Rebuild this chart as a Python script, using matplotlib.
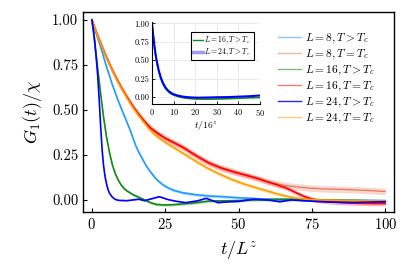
import numpy as np
import matplotlib
matplotlib.use("Agg")
import matplotlib.pyplot as plt
from matplotlib.lines import Line2D
from matplotlib.ticker import FormatStrFormatter

plt.rcParams['font.family'] = ['cmr10', 'DejaVu Serif']
plt.rcParams['mathtext.fontset'] = 'cm'
plt.rcParams['axes.unicode_minus'] = False
plt.rcParams['axes.formatter.use_mathtext'] = True

#####################################################################
# main panel data, t/L^z
t_l8_hot = [0, 1, 2, 3, 4, 5, 6, 7, 8, 9, 10, 11, 12, 13, 14, 15, 16, 17, 18, 19, 20, 22, 24,
            26, 28, 31, 35, 40, 45, 50, 55, 60, 70, 80, 90, 100]
g_l8_hot = [1.0, 0.95, 0.9, 0.85, 0.795, 0.74, 0.69, 0.64, 0.595, 0.55, 0.51, 0.47, 0.43, 0.39,
            0.345, 0.30, 0.265, 0.235, 0.205, 0.178, 0.155, 0.115, 0.087, 0.067, 0.053, 0.04,
            0.03, 0.022, 0.018, 0.012, 0.008, 0.004, 0.002, 0.0, -0.002, -0.004]

t_crit = [0, 1, 2, 3, 4, 5, 6, 7, 8, 9, 10, 12, 14, 16, 18, 20, 22, 25, 28, 31, 34, 37, 40, 44,
          48, 52, 56, 60, 63, 66, 69, 72, 75, 78, 82, 86, 90, 95, 100]
g_l8_crit = [1.0, 0.955, 0.912, 0.87, 0.83, 0.792, 0.755, 0.72, 0.687, 0.656, 0.626, 0.57, 0.52,
             0.475, 0.435, 0.40, 0.375, 0.343, 0.318, 0.293, 0.262, 0.232, 0.205, 0.178, 0.158,
             0.14, 0.122, 0.102, 0.09, 0.08, 0.074, 0.069, 0.065, 0.062, 0.06, 0.058, 0.056,
             0.052, 0.047]
g_l16_crit = [1.0, 0.955, 0.912, 0.87, 0.83, 0.792, 0.755, 0.72, 0.687, 0.656, 0.626, 0.57, 0.52,
              0.475, 0.435, 0.40, 0.375, 0.343, 0.318, 0.293, 0.262, 0.232, 0.205, 0.178, 0.158,
              0.14, 0.122, 0.10, 0.085, 0.068, 0.045, 0.022, 0.005, -0.006, -0.012, -0.015,
              -0.018, -0.02, -0.02]
g_l24_crit = [1.0, 0.954, 0.91, 0.868, 0.827, 0.789, 0.752, 0.717, 0.684, 0.652, 0.622, 0.565,
              0.513, 0.467, 0.425, 0.385, 0.355, 0.32, 0.29, 0.26, 0.23, 0.2, 0.172, 0.14, 0.112,
              0.088, 0.068, 0.049, 0.035, 0.022, 0.012, 0.005, 0.002, 0.0, -0.001, -0.002,
              -0.004, -0.005, -0.006]

t_l16_hot = [0, 0.5, 1, 1.5, 2, 2.5, 3, 3.5, 4, 5, 6, 7, 8, 9, 10, 11, 12, 14, 16, 18, 20, 22,
             25, 28, 31, 34, 37, 40, 45, 50, 55, 60, 65, 70, 80, 90, 100]
g_l16_hot = [1.0, 0.94, 0.87, 0.8, 0.73, 0.66, 0.59, 0.525, 0.46, 0.35, 0.265, 0.195, 0.145,
             0.11, 0.083, 0.063, 0.05, 0.03, 0.015, 0.0, -0.015, -0.025, -0.028, -0.026, -0.022,
             -0.018, -0.012, -0.006, -0.005, -0.004, 0.0, 0.002, 0.003, 0.003, 0.0, -0.004, -0.006]

t_l24_hot = [0, 0.5, 1, 1.5, 2, 2.5, 3, 3.5, 4, 4.5, 5, 5.5, 6, 7, 8, 9, 10, 12, 14, 16, 18, 20,
             23, 26, 29, 32, 36, 39, 43, 47, 50, 55, 60, 64, 68, 72, 77, 82, 89, 95, 100]
g_l24_hot = [1.0, 0.95, 0.88, 0.79, 0.69, 0.56, 0.41, 0.28, 0.19, 0.13, 0.09, 0.058, 0.038,
             0.015, 0.003, -0.002, -0.003, -0.004, 0.0, 0.004, -0.004, 0.005, 0.018, 0.002,
             -0.008, -0.015, -0.005, 0.009, -0.015, -0.01, -0.008, 0.004, 0.0, -0.01, 0.0,
             -0.004, -0.009, -0.012, -0.015, -0.012, -0.01]

# ribbon half widths
err_l8_hot = 0.008
err_l8_crit = 0.018
err_l16_hot = 0.007
err_l16_crit = 0.012
err_l24_hot = 0.002
err_l24_crit = 0.01

labels = [r"$L = 8, T > T_c$", r"$L = 8, T = T_c$", r"$L = 16, T > T_c$",
          r"$L = 16, T = T_c$", r"$L = 24, T > T_c$", r"$L = 24, T = T_c$"]

# inset data, t/16^z
t_inset = [0, 0.5, 1, 1.5, 2, 3, 4, 5, 6, 7, 8, 9, 10, 12, 14, 16, 18, 21, 25, 30, 35, 40, 45, 50]
g_inset_l16 = [1.0, 0.84, 0.71, 0.6, 0.505, 0.36, 0.255, 0.18, 0.125, 0.088, 0.06, 0.04, 0.026,
               0.006, -0.008, -0.017, -0.023, -0.028, -0.03, -0.028, -0.024, -0.018, -0.012, -0.008]
g_inset_l24 = [1.0, 0.85, 0.72, 0.61, 0.52, 0.375, 0.27, 0.195, 0.14, 0.1, 0.072, 0.052, 0.037,
               0.018, 0.006, -0.002, -0.006, -0.01, -0.008, -0.004, -0.002, 0.004, 0.01, 0.02]
inset_labels = [r"$L = 16, T > T_c$", r"$L = 24, T > T_c$"]

#####################################################################
colors = ['#1E9CFF', '#E8785A', '#138A13', '#FF0000', '#0000FF', '#FFA000']

fig = plt.figure(figsize=(4.07, 2.71), dpi=100)
ax = fig.add_axes([0.204, 0.2177, 0.7641, 0.738])

series = [(t_l8_hot, g_l8_hot, err_l8_hot),
          (t_crit, g_l8_crit, err_l8_crit),
          (t_l16_hot, g_l16_hot, err_l16_hot),
          (t_crit, g_l16_crit, err_l16_crit),
          (t_l24_hot, g_l24_hot, err_l24_hot),
          (t_crit, g_l24_crit, err_l24_crit)]
order = [1, 0, 2, 3, 5, 4]
for i in order:
    t, g, e = series[i]
    t = np.array(t)
    g = np.array(g)
    ax.fill_between(t, g - e, g + e, color=colors[i], alpha=0.3, lw=0)
    lw = 0.9 if i == 1 else 1.2
    ax.plot(t, g, color=colors[i], lw=lw)

ax.set_xlim(-3, 103)
ax.set_ylim(-0.067, 1.044)
ax.set_xticks([0, 25, 50, 75, 100])
ax.set_yticks([0, 0.25, 0.5, 0.75, 1.0])
ax.yaxis.set_major_formatter(FormatStrFormatter('%.2f'))
ax.tick_params(direction='in', labelsize=10.5, length=3, width=0.8)
for s in ax.spines.values():
    s.set_linewidth(1.0)
ax.set_xlabel(r"$t/L^z$", fontsize=13, labelpad=5)
ax.set_ylabel(r"$G_1(t)/\chi$", fontsize=13, labelpad=6)

handles = [Line2D([], [], color=colors[i], lw=1.0, alpha=0.55 if i != 4 else 0.85) for i in range(6)]
ax.legend(handles, labels, loc='upper left', bbox_to_anchor=(0.6, 0.94), frameon=False,
          fontsize=8.3, handlelength=2.0, handletextpad=0.35, labelspacing=0.22, borderpad=0.2)

#####################################################################
axin = fig.add_axes([0.3735, 0.6162, 0.2654, 0.3026])
axin.plot(t_inset, g_inset_l16, color='#138A13', lw=1.2)
axin.plot(t_inset, g_inset_l24, color='#0000FF', lw=1.5)
axin.set_xlim(0, 50)
axin.set_ylim(-0.096, 1.02)
axin.set_xticks([0, 10, 20, 30, 40, 50])
axin.set_yticks([0, 0.25, 0.5, 0.75, 1.0])
axin.yaxis.set_major_formatter(FormatStrFormatter('%.2f'))
axin.grid(True, color='#e6e6e6', lw=0.6)
axin.spines['top'].set_visible(False)
axin.spines['right'].set_visible(False)
axin.tick_params(direction='in', labelsize=6, length=2, width=0.6, pad=2)
axin.set_xlabel(r"$t/16^z$", fontsize=7, labelpad=1)
inh = [Line2D([], [], color='#138A13', lw=1.0), Line2D([], [], color='#0000FF', lw=2.5, alpha=0.4)]
leg = axin.legend(inh, inset_labels, loc='upper right', bbox_to_anchor=(0.975, 0.92), fontsize=5.5,
                  handlelength=1.3, handletextpad=0.2, labelspacing=0.05, borderpad=0.3,
                  fancybox=False, edgecolor='black', framealpha=1)
leg.get_frame().set_linewidth(0.8)

fig.savefig("out.png", dpi=100)
